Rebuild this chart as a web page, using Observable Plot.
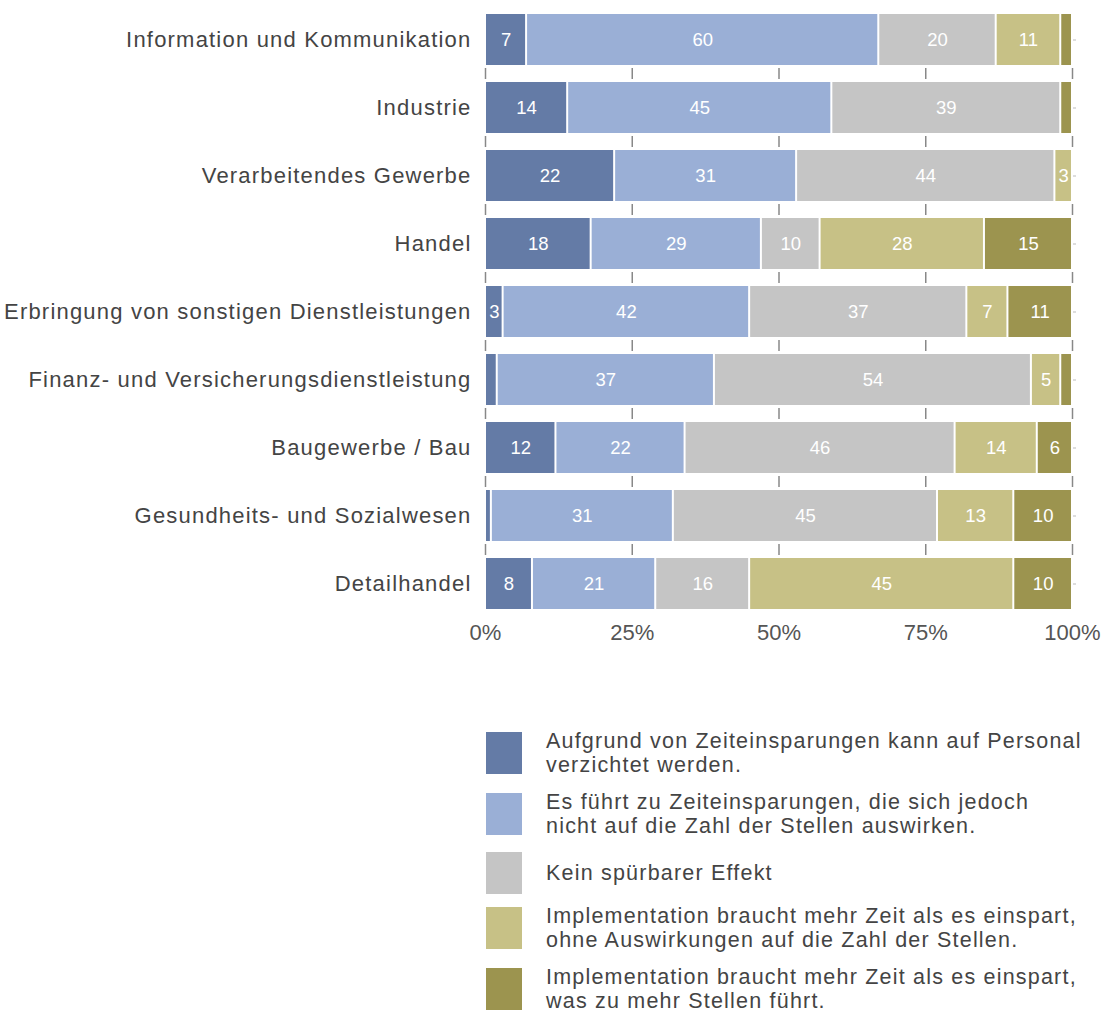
<!DOCTYPE html>
<html>
<head>
<meta charset="utf-8">
<script src="https://cdn.jsdelivr.net/npm/d3@7"></script>
<script src="https://cdn.jsdelivr.net/npm/@observablehq/plot@0.6"></script>
<style>
  body { margin: 0; background: #fff; font-family: "Liberation Sans", Arial, sans-serif; }
  #chart svg g[aria-label="y-axis tick label"] text { letter-spacing: 1.2px; }
  #legend { margin-top: 75px; padding-left: 486px; color: #444; font-size: 21.5px; letter-spacing: 1.2px; }
  .item { display: flex; align-items: center; height: 42px; }
  .sw { width: 36px; height: 42px; flex: none; margin-right: 24px; }
  .lab { line-height: 24px; white-space: nowrap; }
</style>
</head>
<body>
<div id="chart"></div>
<div id="legend"></div>
<script>
const categories = [
  "Information und Kommunikation",
  "Industrie",
  "Verarbeitendes Gewerbe",
  "Handel",
  "Erbringung von sonstigen Dienstleistungen",
  "Finanz- und Versicherungsdienstleistung",
  "Baugewerbe / Bau",
  "Gesundheits- und Sozialwesen",
  "Detailhandel"
];
const seriesNames = [
  "Aufgrund von Zeiteinsparungen kann auf Personal verzichtet werden.",
  "Es führt zu Zeiteinsparungen, die sich jedoch nicht auf die Zahl der Stellen auswirken.",
  "Kein spürbarer Effekt",
  "Implementation braucht mehr Zeit als es einspart, ohne Auswirkungen auf die Zahl der Stellen.",
  "Implementation braucht mehr Zeit als es einspart, was zu mehr Stellen führt."
];
const legendLines = [
  ["Aufgrund von Zeiteinsparungen kann auf Personal", "verzichtet werden."],
  ["Es führt zu Zeiteinsparungen, die sich jedoch", "nicht auf die Zahl der Stellen auswirken."],
  ["Kein spürbarer Effekt"],
  ["Implementation braucht mehr Zeit als es einspart,", "ohne Auswirkungen auf die Zahl der Stellen."],
  ["Implementation braucht mehr Zeit als es einspart,", "was zu mehr Stellen führt."]
];
const personalVerzichtet = [7, 14, 22, 18, 3, 2, 12, 1, 8];
const zeiteinsparungen   = [60, 45, 31, 29, 42, 37, 22, 31, 21];
const keinEffekt         = [20, 39, 44, 10, 37, 54, 46, 45, 16];
const mehrZeitOhne       = [11, 0, 3, 28, 7, 5, 14, 13, 45];
const mehrZeitMehr       = [2, 2, 0, 15, 11, 2, 6, 10, 10];
const seriesValues = [personalVerzichtet, zeiteinsparungen, keinEffekt, mehrZeitOhne, mehrZeitMehr];
const colors = ["#647ba6", "#9aafd6", "#c5c5c5", "#c7c186", "#9c944f"];
const xTicks = [0, 0.25, 0.5, 0.75, 1];
const legendGaps = [19, 17, 13, 19, 0];

const data = [];
categories.forEach((c, i) => {
  seriesValues.forEach((vals, s) => {
    if (vals[i] > 0) data.push({cat: categories[i], series: seriesNames[s], value: vals[i] / 100, pct: vals[i]});
  });
});
const tickData = [];
categories.slice(0, -1).forEach(c => xTicks.forEach(t => tickData.push({cat: c, t})));

const chart = Plot.plot({
  width: 1104,
  height: 657,
  marginLeft: 485,
  marginRight: 32,
  marginTop: 5,
  marginBottom: 40,
  style: {fontFamily: "'Liberation Sans', Arial, sans-serif", fontSize: "22px", color: "#444", background: "#fff"},
  x: {domain: [0, 1], ticks: xTicks, tickFormat: d3.format(".0%")},
  y: {domain: categories, paddingInner: 0.25, paddingOuter: 0.1, align: 0.5},
  color: {domain: seriesNames, range: colors},
  marks: [
    Plot.axisX({ticks: xTicks, tickFormat: d3.format(".0%"), tickSize: 0, tickPadding: 7, fontSize: 22, color: "#555", label: null}),
    Plot.axisY({tickSize: 0, tickPadding: 14, fontSize: 22, label: null}),
    Plot.axisY({anchor: "right", tickSize: 3, tickFormat: () => "", stroke: "#bbb", label: null}),
    Plot.tickX(tickData, {x: "t", y: "cat", dy: 34, insetTop: 20, insetBottom: 20, stroke: "#888", strokeWidth: 1.5}),
    Plot.barX(data, Plot.stackX({x: "value", y: "cat", fill: "series", order: null, insetLeft: 1, insetRight: 1})),
    Plot.text(data, Plot.stackX({x: "value", y: "cat", z: "series", order: null,
      text: d => d.pct >= 3 ? String(d.pct) : "",
      fill: "white", fontSize: 18.5, fontFamily: "'Liberation Sans', Arial, sans-serif"}))
  ]
});
document.getElementById("chart").appendChild(chart);

const legend = document.getElementById("legend");
legendLines.forEach((lines, i) => {
  const item = document.createElement("div");
  item.className = "item";
  item.style.marginBottom = legendGaps[i] + "px";
  const sw = document.createElement("div");
  sw.className = "sw";
  sw.style.background = colors[i];
  const lab = document.createElement("div");
  lab.className = "lab";
  lab.innerHTML = lines.join("<br>");
  item.appendChild(sw);
  item.appendChild(lab);
  legend.appendChild(item);
});
</script>
</body>
</html>
